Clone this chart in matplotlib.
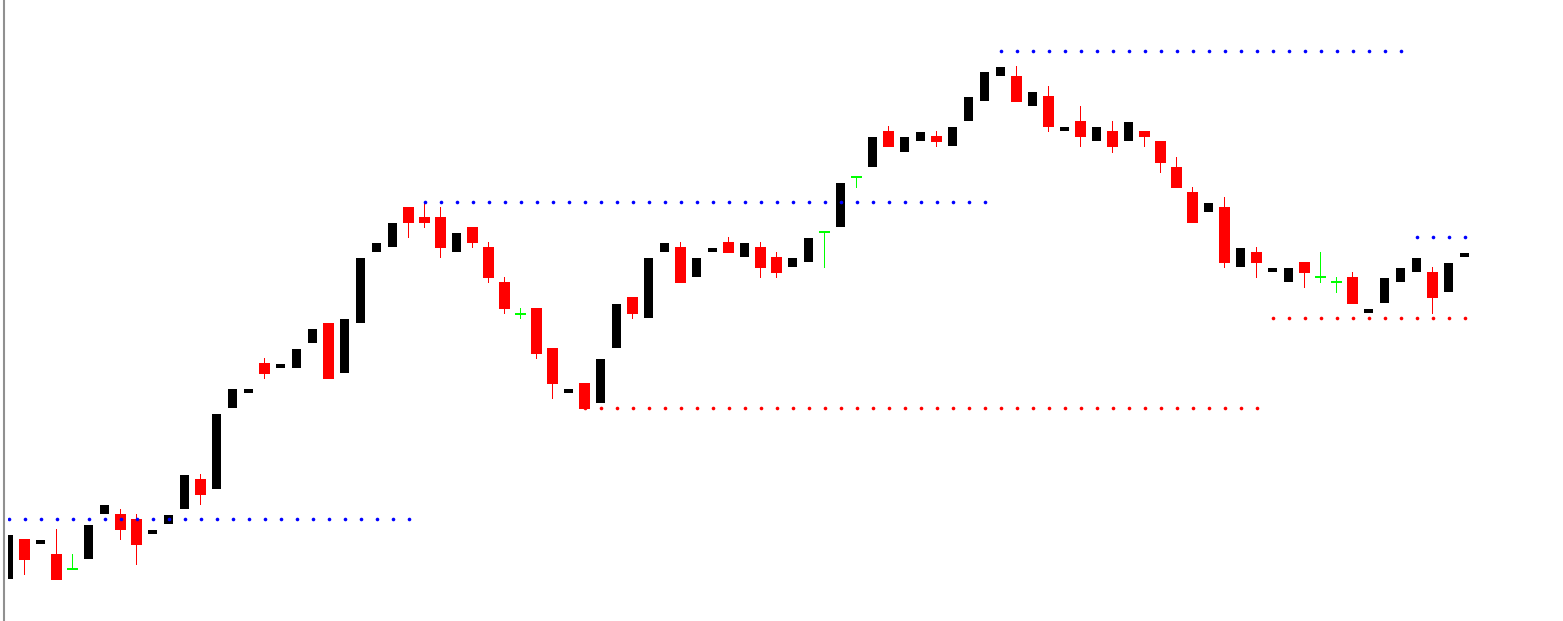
"""
Candlestick chart with dotted support / resistance levels.
"""

import matplotlib

matplotlib.use("Agg")
import matplotlib.pyplot as plt
import numpy as np
from matplotlib.lines import Line2D

# price data (arbitrary units), one entry per bar
opens = [42, 82, 77, 67, 52, 62, 107, 107, 102, 87, 97, 112, 142, 132, 213, 228,
         258, 253, 253, 278, 298, 248, 298, 369, 374, 414, 404, 404, 369, 394,
         374, 339, 307, 313, 273, 228, 238, 218, 273, 324, 303, 369, 374, 344,
         369, 379, 364, 374, 364, 354, 359, 389, 394, 444, 454, 490, 469, 480,
         485, 475, 500, 520, 545, 545, 515, 525, 490, 500, 480, 490, 480, 490,
         480, 454, 429, 409, 414, 354, 369, 349, 339, 359, 344, 339, 344, 308,
         318, 339, 349, 349, 329, 364]
closes = [86, 61, 81, 41, 52, 96, 116, 91, 76, 91, 106, 146, 126, 207, 232, 232,
          247, 257, 272, 292, 242, 302, 363, 378, 398, 398, 398, 373, 388, 378,
          343, 312, 307, 267, 237, 232, 212, 262, 317, 307, 363, 378, 338, 363,
          373, 368, 378, 353, 348, 363, 383, 389, 438, 444, 484, 474, 484, 489,
          479, 494, 524, 549, 554, 519, 529, 494, 494, 484, 494, 474, 499, 484,
          458, 433, 398, 418, 358, 373, 358, 353, 353, 348, 344, 339, 317, 312,
          343, 353, 363, 323, 358, 368]
highs = [86, 82, 81, 92, 67, 96, 116, 112, 107, 91, 106, 146, 147, 207, 232, 232,
         263, 257, 272, 292, 298, 302, 363, 378, 398, 414, 419, 414, 388, 394,
         379, 344, 313, 313, 273, 232, 238, 262, 317, 324, 363, 378, 379, 363,
         373, 384, 378, 379, 369, 363, 383, 389, 438, 444, 484, 495, 484, 489,
         490, 494, 524, 549, 554, 555, 529, 535, 494, 515, 494, 500, 499, 490,
         480, 464, 434, 418, 424, 373, 374, 353, 353, 359, 369, 344, 349, 312,
         343, 353, 363, 354, 358, 368]
lows = [42, 46, 77, 41, 52, 62, 107, 81, 56, 87, 97, 112, 116, 132, 213, 228,
        242, 253, 253, 278, 242, 248, 298, 369, 374, 383, 393, 363, 369, 373,
        338, 307, 302, 262, 222, 228, 212, 218, 273, 302, 303, 369, 338, 344,
        369, 368, 364, 343, 343, 354, 359, 353, 394, 433, 454, 474, 469, 480,
        474, 475, 500, 520, 545, 519, 515, 489, 490, 474, 480, 468, 480, 474,
        448, 433, 398, 409, 353, 354, 343, 349, 339, 333, 338, 328, 317, 308,
        318, 339, 349, 307, 329, 364]

# levels: (first bar, last bar, price)
resistance = [(0, 25, 102), (26, 61, 419), (62, 87, 570), (88, 91, 384)]
support = [(36, 78, 213), (79, 91, 303)]

W, H = 1563, 621
fig = plt.figure(figsize=(W / 100, H / 100), dpi=100)
ax = fig.add_axes([8 / W, 0, 1 - 8 / W, 1])

o = np.array(opens)
c = np.array(closes)
hi = np.array(highs)
lo = np.array(lows)
x = np.arange(len(o))

up = c > o
down = c < o
doji = c == o
px = 1 / 16  # one screen pixel in bar units

# bull bodies: plain black blocks
ax.bar(x[up], (c - o)[up], bottom=o[up], width=9 * px, color="black",
       linewidth=0, antialiased=False)

# bear candles: red wick + red body
ax.bar(x[down], (hi - lo)[down], bottom=lo[down], width=1.2 * px,
       color="red", linewidth=0, antialiased=False)
ax.bar(x[down], (o - c)[down], bottom=c[down], width=11 * px, color="red",
       linewidth=0, antialiased=False)

# doji: green cross
ax.bar(x[doji], (hi - lo)[doji], bottom=lo[doji], width=1.2 * px,
       color="#00ff00", linewidth=0, antialiased=False)
ax.bar(x[doji], 1.2, bottom=o[doji] - 0.6, width=11 * px,
       color="#00ff00", linewidth=0, antialiased=False)

for start, end, level in resistance:
    xs = np.arange(start, end + 1)
    ax.plot(xs, np.full(len(xs), level), ls="none", marker="o", ms=2.6,
            mew=0, color="blue")
for start, end, level in support:
    xs = np.arange(start, end + 1)
    ax.plot(xs, np.full(len(xs), level), ls="none", marker="o", ms=2.6,
            mew=0, color="red")

ax.set_xlim(-0.5 / 16, (W - 8.5) / 16)
ax.set_ylim(0, H)
ax.axis("off")

# grey left border of the chart window
fig.add_artist(Line2D([4 / W, 4 / W], [0, 1], color="#909090", linewidth=1.5,
                      transform=fig.transFigure))

fig.savefig("out.png", dpi=100)
